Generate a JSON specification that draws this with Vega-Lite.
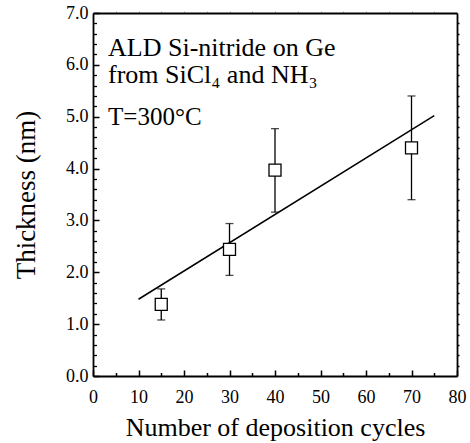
{
  "$schema": "https://vega.github.io/schema/vega-lite/v6.json",
  "width": 364,
  "height": 363,
  "autosize": {"type": "none"},
  "padding": {"left": 93, "top": 13, "right": 13, "bottom": 67},
  "background": "white",
  "config": {
    "view": {"stroke": null},
    "font": "'Liberation Serif', 'DejaVu Serif', serif",
    "axis": {"grid": false, "domainColor": "black", "tickColor": "black", "labelColor": "black", "titleColor": "black", "labelFont": "'Liberation Serif', 'DejaVu Serif', serif", "titleFont": "'Liberation Serif', 'DejaVu Serif', serif", "titleFontWeight": "normal", "domainWidth": 1.8}
  },
  "datasets": {
    "pts": [
      {"cycles": 15, "thickness": 1.38, "lo": 1.08, "hi": 1.68},
      {"cycles": 30, "thickness": 2.44, "lo": 1.94, "hi": 2.94},
      {"cycles": 40, "thickness": 3.97, "lo": 3.16, "hi": 4.77},
      {"cycles": 70, "thickness": 4.40, "lo": 3.40, "hi": 5.40}
    ],
    "fit": [
      {"cycles": 10, "thickness": 1.48},
      {"cycles": 75, "thickness": 5.02}
    ],
    "one": [{}]
  },
  "resolve": {"axis": {"x": "independent", "y": "independent"}},
  "layer": [
    {
      "data": {"name": "fit"},
      "mark": {"type": "line", "color": "black", "strokeWidth": 1.5},
      "encoding": {
        "x": {"field": "cycles", "type": "quantitative", "scale": {"domain": [0, 80], "nice": false, "zero": false},
          "axis": {"orient": "bottom", "values": [0, 10, 20, 30, 40, 50, 60, 70, 80], "tickSize": -6, "tickWidth": 1.5, "labelFontSize": 18, "labelPadding": 18, "labelFlush": false, "title": "Number of deposition cycles", "titleFontSize": 26, "titlePadding": 8}},
        "y": {"field": "thickness", "type": "quantitative", "scale": {"domain": [0, 7], "nice": false, "zero": false},
          "axis": {"orient": "left", "values": [0, 1, 2, 3, 4, 5, 6, 7], "format": ".1f", "tickSize": -6, "tickWidth": 1.5, "labelFontSize": 18, "labelPadding": 11, "labelFlush": false, "title": "Thickness (nm)", "titleFontSize": 27, "titlePadding": 25}}
      }
    },
    {
      "data": {"name": "pts"},
      "mark": {"type": "rule", "color": "black", "strokeWidth": 1.3},
      "encoding": {
        "x": {"field": "cycles", "type": "quantitative", "scale": {"domain": [0, 80], "nice": false, "zero": false},
          "axis": {"orient": "bottom", "values": [5, 15, 25, 35, 45, 55, 65, 75], "tickSize": -3.5, "tickWidth": 1.5, "labels": false, "title": null, "domain": false}},
        "y": {"field": "lo", "type": "quantitative", "scale": {"domain": [0, 7], "nice": false, "zero": false},
          "axis": {"orient": "left", "values": [0.2, 0.4, 0.6, 0.8, 1.2, 1.4, 1.6, 1.8, 2.2, 2.4, 2.6, 2.8, 3.2, 3.4, 3.6, 3.8, 4.2, 4.4, 4.6, 4.8, 5.2, 5.4, 5.6, 5.8, 6.2, 6.4, 6.6, 6.8], "tickSize": -3.5, "tickWidth": 1.3, "labels": false, "title": null, "domain": false}},
        "y2": {"field": "hi"}
      }
    },
    {
      "data": {"name": "pts"},
      "mark": {"type": "tick", "orient": "horizontal", "color": "black", "size": 8, "thickness": 1.3},
      "encoding": {
        "x": {"field": "cycles", "type": "quantitative", "scale": {"domain": [0, 80], "nice": false, "zero": false},
          "axis": {"orient": "top", "values": [5, 10, 15, 20, 25, 30, 35, 40, 45, 50, 55, 60, 65, 70, 75], "tickSize": 2, "tickColor": "#bbbbbb", "labels": false, "title": null}},
        "y": {"field": "lo", "type": "quantitative", "scale": {"domain": [0, 7], "nice": false, "zero": false},
          "axis": {"orient": "right", "values": [0.2, 0.4, 0.6, 0.8, 1, 1.2, 1.4, 1.6, 1.8, 2, 2.2, 2.4, 2.6, 2.8, 3, 3.2, 3.4, 3.6, 3.8, 4, 4.2, 4.4, 4.6, 4.8, 5, 5.2, 5.4, 5.6, 5.8, 6, 6.2, 6.4, 6.6, 6.8], "tickSize": 2, "tickWidth": 1.5, "labels": false, "title": null}}
      }
    },
    {
      "data": {"name": "pts"},
      "mark": {"type": "tick", "orient": "horizontal", "color": "black", "size": 8, "thickness": 1.3},
      "encoding": {
        "x": {"field": "cycles", "type": "quantitative", "scale": {"domain": [0, 80], "nice": false, "zero": false}, "axis": null},
        "y": {"field": "hi", "type": "quantitative", "scale": {"domain": [0, 7], "nice": false, "zero": false}, "axis": null}
      }
    },
    {
      "data": {"name": "pts"},
      "mark": {"type": "point", "shape": "square", "filled": true, "fill": "white", "stroke": "black", "strokeWidth": 1.3, "size": 144, "opacity": 1},
      "encoding": {
        "x": {"field": "cycles", "type": "quantitative", "scale": {"domain": [0, 80], "nice": false, "zero": false}, "axis": null},
        "y": {"field": "thickness", "type": "quantitative", "scale": {"domain": [0, 7], "nice": false, "zero": false}, "axis": null}
      }
    },
    {
      "data": {"name": "one"},
      "mark": {"type": "text", "text": "ALD Si-nitride on Ge", "align": "left", "baseline": "alphabetic", "fontSize": 26, "font": "'Liberation Serif', 'DejaVu Serif', serif", "color": "black"},
      "encoding": {"x": {"datum": 3.3, "type": "quantitative", "axis": null}, "y": {"datum": 6.17, "type": "quantitative", "axis": null}}
    },
    {
      "data": {"name": "one"},
      "mark": {"type": "text", "text": "from SiCl₄ and NH₃", "align": "left", "baseline": "alphabetic", "fontSize": 26, "font": "'Liberation Serif', 'DejaVu Serif', serif", "color": "black"},
      "encoding": {"x": {"datum": 3.3, "type": "quantitative", "axis": null}, "y": {"datum": 5.65, "type": "quantitative", "axis": null}}
    },
    {
      "data": {"name": "one"},
      "mark": {"type": "text", "text": "T=300°C", "align": "left", "baseline": "alphabetic", "fontSize": 25, "font": "'Liberation Serif', 'DejaVu Serif', serif", "color": "black"},
      "encoding": {"x": {"datum": 3.3, "type": "quantitative", "axis": null}, "y": {"datum": 4.84, "type": "quantitative", "axis": null}}
    }
  ]
}
